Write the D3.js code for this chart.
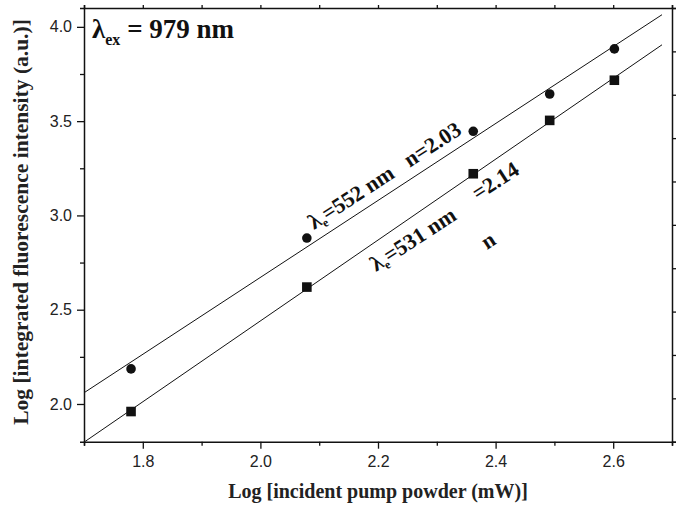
<!DOCTYPE html>
<html>
<head>
<meta charset="utf-8">
<script src="https://cdn.jsdelivr.net/npm/d3@7"></script>
<style>
  body { margin: 0; background: #fff; }
  svg { display: block; }
  text { white-space: pre; }
</style>
</head>
<body>
<script>
// log power (x) shared by both emission bands
var logPower = [1.78, 2.079, 2.362, 2.492, 2.602];
// circles: 552 nm, squares: 531 nm
var green552 = [2.186, 2.88, 3.446, 3.644, 3.883];
var green531 = [1.96, 2.62, 3.221, 3.504, 3.717];
var xTicks = [1.8, 2.0, 2.2, 2.4, 2.6];
var yTicks = [2.0, 2.5, 3.0, 3.5, 4.0];

var W = 681, H = 505;
var pL = 84, pR = 672, pT = 8, pB = 441.7;

var svg = d3.select('body').append('svg').attr('width', W).attr('height', H);

var x = d3.scaleLinear().domain([1.7, 2.7]).range([pL, pR]);
var y = d3.scaleLinear().domain([1.8, 4.1]).range([pB, pT]);

// simple least squares, line is drawn from the fit
function fit(xs, ys) {
    var mx = d3.mean(xs), my = d3.mean(ys), sxy = 0, sxx = 0;
    xs.forEach(function (v, i) {
        sxy += (v - mx) * (ys[i] - my);
        sxx += (v - mx) * (v - mx);
    });
    var b = sxy / sxx;
    return function (v) { return my + b * (v - mx); };
}

svg.append('clipPath').attr('id', 'clip').append('rect')
    .attr('x', pL).attr('y', pT).attr('width', pR - pL).attr('height', pB - pT);

var lineEnd = 2.683;
[green552, green531].forEach(function (ys) {
    var f = fit(logPower, ys);
    svg.append('line')
        .attr('clip-path', 'url(#clip)')
        .attr('x1', x(1.7)).attr('y1', y(f(1.7)))
        .attr('x2', x(lineEnd)).attr('y2', y(f(lineEnd)))
        .attr('stroke', '#111').attr('stroke-width', 1);
});

// markers
svg.selectAll('circle.pt').data(logPower).enter().append('circle')
    .attr('class', 'pt')
    .attr('cx', function (d) { return x(d); })
    .attr('cy', function (d, i) { return y(green552[i]); })
    .attr('r', 4.8).attr('fill', '#111');

svg.selectAll('rect.pt').data(logPower).enter().append('rect')
    .attr('class', 'pt')
    .attr('x', function (d) { return x(d) - 4.8; })
    .attr('y', function (d, i) { return y(green531[i]) - 4.8; })
    .attr('width', 9.6).attr('height', 9.6).attr('fill', '#111');

// axes
var tickFont = '"Liberation Sans", Arial, sans-serif';
var xMinor = d3.range(17, 28).map(function (v) { return v / 10; });

var xAxis = svg.append('g').attr('transform', 'translate(0,' + pB + ')')
    .call(d3.axisBottom(x).tickValues(xMinor).tickSize(4).tickFormat(''));
xAxis.selectAll('.tick').filter(function (d) { return xTicks.some(function (t) { return Math.abs(t - d) < 1e-6; }); })
    .select('line').attr('y2', 7);
svg.append('g').attr('transform', 'translate(0,' + pB + ')')
    .call(d3.axisBottom(x).tickValues(xTicks).tickSize(0).tickPadding(14).tickFormat(d3.format('.1f')))
    .call(function (g) { g.select('.domain').remove(); });

var yAxis = svg.append('g').attr('transform', 'translate(' + pL + ',0)')
    .call(d3.axisLeft(y).tickValues([2.0, 2.25, 2.5, 2.75, 3.0, 3.25, 3.5, 3.75, 4.0])
        .tickSize(4).tickFormat(''));
yAxis.selectAll('.tick').filter(function (d) { return yTicks.indexOf(d) >= 0; })
    .select('line').attr('x2', -7);
svg.append('g').attr('transform', 'translate(' + pL + ',0)')
    .call(d3.axisLeft(y).tickValues(yTicks).tickSize(0).tickPadding(12).tickFormat(d3.format('.1f')))
    .call(function (g) { g.select('.domain').remove(); });

// top and right: unlabeled ticks
svg.append('g').attr('transform', 'translate(0,' + pT + ')')
    .call(d3.axisTop(x).tickValues(xMinor).tickSize(3).tickFormat(''));
var yRight = d3.scaleLinear().domain([0, 10]).range([pB, pT]);
svg.append('g').attr('transform', 'translate(' + pR + ',0)')
    .call(d3.axisRight(yRight).ticks(10).tickSize(4).tickFormat(''));

svg.selectAll('.domain').attr('stroke', '#111').attr('stroke-width', 1.5);
svg.selectAll('.tick line').attr('stroke', '#111').attr('stroke-width', 1.3);
svg.selectAll('.tick text').attr('font-family', tickFont).attr('font-size', 16).attr('fill', '#222');

var serif = '"Liberation Serif", "Times New Roman", serif';

// axis titles
svg.append('text')
    .attr('x', 378).attr('y', 498)
    .attr('text-anchor', 'middle')
    .attr('font-family', serif).attr('font-weight', 'bold').attr('font-size', 20).attr('fill', '#222')
    .text('Log [incident pump powder (mW)]');

svg.append('text')
    .attr('transform', 'translate(28,222) rotate(-90)')
    .attr('text-anchor', 'middle')
    .attr('font-family', serif).attr('font-weight', 'bold').attr('font-size', 21.5).attr('fill', '#222')
    .text('Log [integrated fluorescence intensity (a.u.)]');

// excitation label
var ex = svg.append('text')
    .attr('x', 92).attr('y', 38)
    .attr('font-family', serif).attr('font-weight', 'bold').attr('font-size', 27).attr('fill', '#111');
ex.append('tspan').text('λ');
ex.append('tspan').attr('font-size', 16).attr('dy', 7).text('ex');
ex.append('tspan').attr('dy', -7).text(' = 979 nm');

// rotated labels beside the lines
function slanted(px, py, parts) {
    var t = svg.append('text')
        .attr('transform', 'translate(' + px + ',' + py + ') rotate(-33)')
        .attr('font-family', serif).attr('font-weight', 'bold').attr('font-size', 22).attr('fill', '#111');
    parts.forEach(function (p) {
        var s = t.append('tspan').text(p[0]);
        if (p[1]) s.attr('font-size', p[1]);
        if (p[2]) s.attr('dy', p[2]);
    });
}
slanted(314, 230, [['λ'], ['e', 12, 4], ['=552 nm   n=2.03', null, -4]]);
slanted(376, 272, [['λ'], ['e', 12, 4], ['=531 nm', null, -4]]);
slanted(478, 201, [['=2.14']]);
slanted(487, 250, [['n']]);
</script>
</body>
</html>
